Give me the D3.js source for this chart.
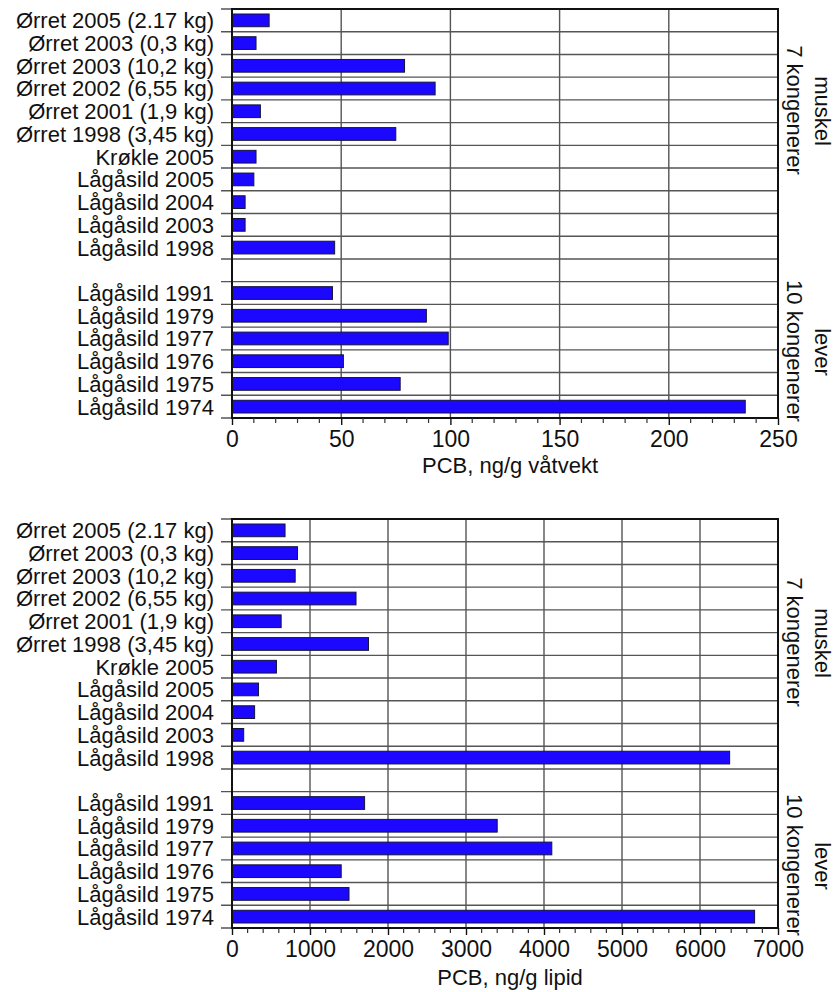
<!DOCTYPE html>
<html>
<head>
<meta charset="utf-8">
<script src="https://cdn.jsdelivr.net/npm/d3@7"></script>
<style>
  html, body { margin: 0; padding: 0; background: #fff; }
  svg text { font-family: "Liberation Sans", Arial, Helvetica, sans-serif; fill: #111; }
</style>
</head>
<body>
<svg id="chart" width="836" height="992"></svg>
<script>
// Samples: muscle (7 congeners) and liver (10 congeners)
const muscleSamples = [
  "Ørret 2005 (2.17 kg)", "Ørret 2003 (0,3 kg)", "Ørret 2003 (10,2 kg)",
  "Ørret 2002 (6,55 kg)", "Ørret 2001  (1,9 kg)", "Ørret 1998 (3,45 kg)",
  "Krøkle 2005", "Lågåsild 2005", "Lågåsild 2004", "Lågåsild 2003", "Lågåsild 1998"
];
const liverSamples = [
  "Lågåsild 1991", "Lågåsild 1979", "Lågåsild 1977",
  "Lågåsild 1976", "Lågåsild 1975", "Lågåsild 1974"
];

// PCB, ng/g wet weight (muscle then liver)
const wetMuscle = [17, 11, 79, 93, 13, 75, 11, 10, 6, 6, 47];
const wetLiver  = [46, 89, 99, 51, 77, 235];

// PCB, ng/g lipid (muscle then liver)
const lipidMuscle = [680, 840, 810, 1590, 630, 1750, 570, 340, 290, 150, 6380];
const lipidLiver  = [1700, 3400, 4100, 1400, 1500, 6700];

const wetTicks = [0, 50, 100, 150, 200, 250];
const lipidTicks = [0, 1000, 2000, 3000, 4000, 5000, 6000, 7000];

const groupLabels = [
  { congeners: "7 kongenerer", tissue: "muskel" },
  { congeners: "10 kongenerer", tissue: "lever" }
];

// Row keys: muscle rows, one empty spacer row, liver rows
const GAP = "__gap__";
const rowKeys = [...muscleSamples.map((d, i) => "m" + i), GAP, ...liverSamples.map((d, i) => "l" + i)];

const svg = d3.select("#chart");

function panel(cfg) {
  const { top, bottom, left, right } = cfg;
  const g = svg.append("g");

  const x = d3.scaleLinear().domain(cfg.domain).range([left, right]);
  const y = d3.scaleBand().domain(rowKeys).range([top, bottom]).padding(0);

  const rows = [
    ...muscleSamples.map((name, i) => ({ key: "m" + i, name, value: cfg.muscle[i] })),
    ...liverSamples.map((name, i) => ({ key: "l" + i, name, value: cfg.liver[i] }))
  ];

  // Vertical grid lines
  g.append("g").selectAll("line")
    .data(cfg.ticks.filter(t => t > cfg.domain[0] && t < cfg.domain[1]))
    .join("line")
    .attr("x1", d => x(d)).attr("x2", d => x(d))
    .attr("y1", top).attr("y2", bottom)
    .attr("stroke", "#555").attr("stroke-width", 1.4);

  // Row separators, extending left of the axis as ticks
  const bounds = rowKeys.map(k => y(k)).concat([bottom]);
  g.append("g").selectAll("line")
    .data(bounds)
    .join("line")
    .attr("x1", left - 11).attr("x2", right)
    .attr("y1", d => d).attr("y2", d => d)
    .attr("stroke", "#555").attr("stroke-width", 1.4);

  // Bars
  const bh = y.bandwidth() * 0.56;
  g.append("g").selectAll("rect")
    .data(rows)
    .join("rect")
    .attr("x", x(0))
    .attr("y", d => y(d.key) + (y.bandwidth() - bh) / 2)
    .attr("width", d => x(d.value) - x(0))
    .attr("height", bh)
    .attr("fill", "#1c08ff")
    .attr("stroke", "#14143a")
    .attr("stroke-width", 1);

  // Category labels
  g.append("g").selectAll("text")
    .data(rows)
    .join("text")
    .attr("x", left - 18)
    .attr("y", d => y(d.key) + y.bandwidth() / 2)
    .attr("dy", "0.36em")
    .attr("text-anchor", "end")
    .style("font-size", "22px")
    .text(d => d.name);

  // Frame
  g.append("rect")
    .attr("x", left).attr("y", top)
    .attr("width", right - left).attr("height", bottom - top)
    .attr("fill", "none").attr("stroke", "#111").attr("stroke-width", 2);

  // X axis with minor ticks
  const axis = d3.axisBottom(x).tickValues(cfg.ticks).tickSize(7).tickPadding(6)
    .tickFormat(d3.format("d"));
  const ax = g.append("g").attr("transform", `translate(0,${bottom})`).call(axis);
  ax.select(".domain").remove();
  ax.selectAll("line").attr("stroke", "#111").attr("stroke-width", 1.4);
  ax.selectAll("text").style("font-size", "23px").attr("fill", "#111");

  const minor = d3.range(cfg.domain[0], cfg.domain[1] + 1e-9, cfg.minorStep)
    .filter(v => !cfg.ticks.includes(v));
  g.append("g").selectAll("line")
    .data(minor)
    .join("line")
    .attr("x1", d => x(d)).attr("x2", d => x(d))
    .attr("y1", bottom).attr("y2", bottom + 5)
    .attr("stroke", "#333").attr("stroke-width", 1.2);

  // Axis title
  g.append("text")
    .attr("x", (left + right) / 2 + 5)
    .attr("y", bottom + cfg.titleOffset)
    .attr("text-anchor", "middle")
    .style("font-size", "22px")
    .text(cfg.title);

  // Group labels on the right, rotated
  groupLabels.forEach((lab, i) => {
    const cy = top + cfg.groupY[i];
    g.append("text")
      .attr("transform", `translate(${right + 17},${cy}) rotate(90)`)
      .attr("text-anchor", "middle")
      .attr("dy", "0.36em")
      .style("font-size", "22px")
      .text(lab.congeners);
    g.append("text")
      .attr("transform", `translate(${right + 45},${cy + 1}) rotate(90)`)
      .attr("text-anchor", "middle")
      .attr("dy", "0.36em")
      .style("font-size", "22px")
      .text(lab.tissue);
  });
}

panel({
  top: 9, bottom: 418, left: 232, right: 778,
  domain: [0, 250], ticks: wetTicks, minorStep: 10,
  muscle: wetMuscle, liver: wetLiver,
  title: "PCB, ng/g våtvekt", titleOffset: 55,
  groupY: [101, 342]
});

panel({
  top: 519, bottom: 928, left: 232, right: 778,
  domain: [0, 7000], ticks: lipidTicks, minorStep: 200,
  muscle: lipidMuscle, liver: lipidLiver,
  title: "PCB, ng/g lipid", titleOffset: 57,
  groupY: [123, 346]
});
</script>
</body>
</html>
